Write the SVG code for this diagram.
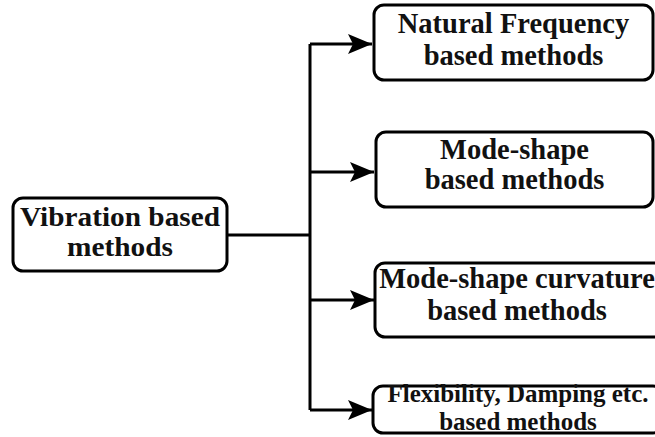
<svg xmlns="http://www.w3.org/2000/svg" width="655" height="437" viewBox="0 0 655 437">
  <style>
    .box { fill: #ffffff; stroke: #000000; stroke-width: 3; }
    .lbl { font-family: "Liberation Serif", "Times New Roman", serif; font-weight: bold; fill: #111111; text-anchor: middle; }
    .wire { fill: none; stroke: #000000; stroke-width: 3; }
  </style>
  <defs>
    <marker id="head" viewBox="0 0 24 20" refX="24" refY="10" markerWidth="24" markerHeight="20" markerUnits="userSpaceOnUse" orient="auto">
      <path d="M0,0 L24,10 L0,20 L5,10 Z" fill="#000000"/>
    </marker>
  </defs>
  <rect width="655" height="437" fill="#ffffff"/>

  <!-- connectors: trunk with four branches -->
  <g id="connectors">
    <path class="wire" d="M226,235 H310"/>
    <path class="wire" d="M310,44 V410"/>
    <path class="wire" d="M310,44 H372" marker-end="url(#head)"/>
    <path class="wire" d="M310,172 H374" marker-end="url(#head)"/>
    <path class="wire" d="M310,300 H374" marker-end="url(#head)"/>
    <path class="wire" d="M310,410 H372" marker-end="url(#head)"/>
  </g>

  <!-- root node -->
  <g id="vibration">
    <rect class="box" x="13" y="198" width="214" height="73" rx="10"/>
    <text class="lbl" x="120" y="226" font-size="27" textLength="200" lengthAdjust="spacingAndGlyphs">Vibration based</text>
    <text class="lbl" x="120" y="256" font-size="27" textLength="106" lengthAdjust="spacingAndGlyphs">methods</text>
  </g>

  <g id="natural-frequency">
    <rect class="box" x="374" y="5" width="279" height="75" rx="10"/>
    <text class="lbl" x="513.5" y="33" font-size="28.5">Natural Frequency</text>
    <text class="lbl" x="513.5" y="65" font-size="28.5">based methods</text>
  </g>

  <g id="mode-shape">
    <rect class="box" x="376" y="132" width="277" height="75" rx="10"/>
    <text class="lbl" x="514.5" y="159" font-size="28.5">Mode-shape</text>
    <text class="lbl" x="514.5" y="189" font-size="28.5">based methods</text>
  </g>

  <g id="mode-shape-curvature">
    <rect class="box" x="375" y="263" width="290" height="74" rx="10"/>
    <text class="lbl" x="517" y="288" font-size="28.5">Mode-shape curvature</text>
    <text class="lbl" x="517" y="320" font-size="28.5">based methods</text>
  </g>

  <g id="flexibility-damping">
    <rect class="box" x="373" y="386" width="290" height="47" rx="10"/>
    <text class="lbl" x="518" y="402" font-size="25">Flexibility, Damping etc.</text>
    <text class="lbl" x="518" y="430" font-size="25">based methods</text>
  </g>
</svg>
